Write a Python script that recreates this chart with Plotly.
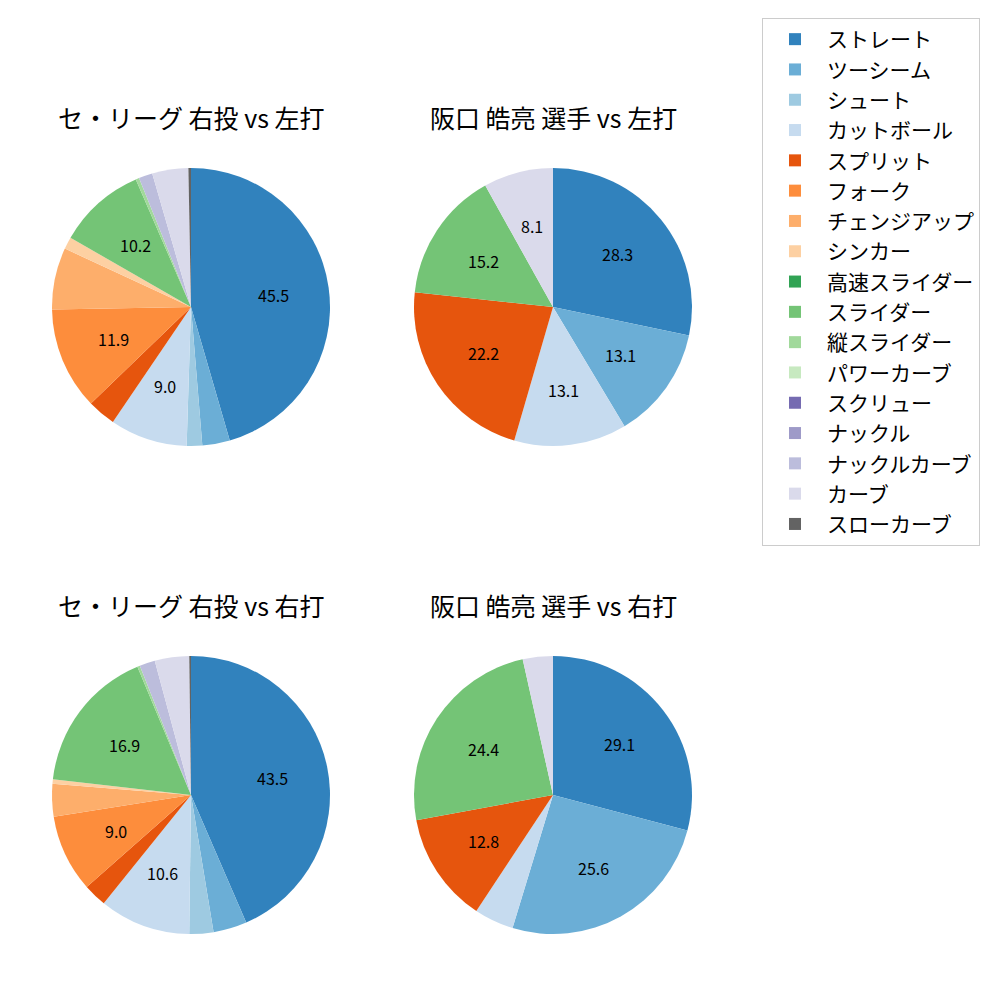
import math
import plotly.graph_objects as go

pitch_types = ["ストレート", "ツーシーム", "シュート", "カットボール", "スプリット", "フォーク",
               "チェンジアップ", "シンカー", "高速スライダー", "スライダー", "縦スライダー",
               "パワーカーブ", "スクリュー", "ナックル", "ナックルカーブ", "カーブ", "スローカーブ"]
colors = ["#3182bd", "#6baed6", "#9ecae1", "#c6dbef", "#e6550d", "#fd8d3c", "#fdae6b", "#fdd0a2",
          "#31a354", "#74c476", "#a1d99b", "#c7e9c0", "#756bb1", "#9e9ac8", "#bcbddc", "#dadaeb",
          "#636363"]

league_vs_left = [45.5, 3.2, 1.8, 9.0, 3.3, 11.9, 7.2, 1.4, 0, 10.2, 0.4, 0, 0, 0, 1.6, 4.2, 0.3]
player_vs_left = [28.3, 13.1, 0, 13.1, 22.2, 0, 0, 0, 0, 15.2, 0, 0, 0, 0, 0, 8.1, 0]
league_vs_right = [43.5, 3.9, 2.8, 10.6, 2.7, 9.0, 3.8, 0.5, 0, 16.9, 0.3, 0, 0, 0, 1.8, 4.0, 0.2]
player_vs_right = [29.1, 25.6, 0, 4.6, 12.8, 0, 0, 0, 0, 24.4, 0, 0, 0, 0, 0, 3.5, 0]

titles = ["セ・リーグ 右投 vs 左打", "阪口 皓亮 選手 vs 左打",
          "セ・リーグ 右投 vs 右打", "阪口 皓亮 選手 vs 右打"]
label_threshold = 8.0

FONT = "Noto Sans CJK JP"
W = H = 1000
R = 139
centers = [(191, 307), (553, 307), (191, 795), (553, 795)]
series = [league_vs_left, player_vs_left, league_vs_right, player_vs_right]

fig = go.Figure()
for i, (vals, (cx, cy)) in enumerate(zip(series, centers)):
    fig.add_trace(go.Pie(
        labels=pitch_types, values=vals, textinfo="none",
        marker=dict(colors=colors, line=dict(width=0)),
        sort=False, direction="clockwise", rotation=0,
        domain=dict(x=[(cx - R) / W, (cx + R) / W], y=[1 - (cy + R) / H, 1 - (cy - R) / H]),
        showlegend=True, hoverinfo="label+value",
    ))
    # percentage labels at 0.6 radius along each slice's mid-angle
    total = sum(vals)
    cum = 0.0
    for v in vals:
        if v >= label_threshold:
            ang = math.radians((cum + v / 2) / total * 360)
            px = cx + 0.6 * R * math.sin(ang)
            py = cy - 0.6 * R * math.cos(ang)
            fig.add_annotation(text=f"{v:.1f}", x=px / W, y=1 - py / H, xref="paper", yref="paper",
                               showarrow=False, xanchor="center", yanchor="middle",
                               font=dict(family=FONT, size=16, color="black"))
        cum += v
    ty = cy - 190
    fig.add_annotation(text=titles[i], x=cx / W, y=1 - ty / H, xref="paper", yref="paper",
                       showarrow=False, xanchor="center", yanchor="middle",
                       font=dict(family=FONT, size=25, color="black"))

fig.update_layout(
    width=W, height=H, margin=dict(l=0, r=0, t=0, b=0),
    paper_bgcolor="white", plot_bgcolor="white",
    font=dict(family=FONT),
    legend=dict(x=0.762, y=0.982, xanchor="left", yanchor="top",
                font=dict(family=FONT, size=21, color="black"),
                bordercolor="#cccccc", borderwidth=1, bgcolor="white",
                itemwidth=54, traceorder="normal"),
)
fig.write_html("out.html")
